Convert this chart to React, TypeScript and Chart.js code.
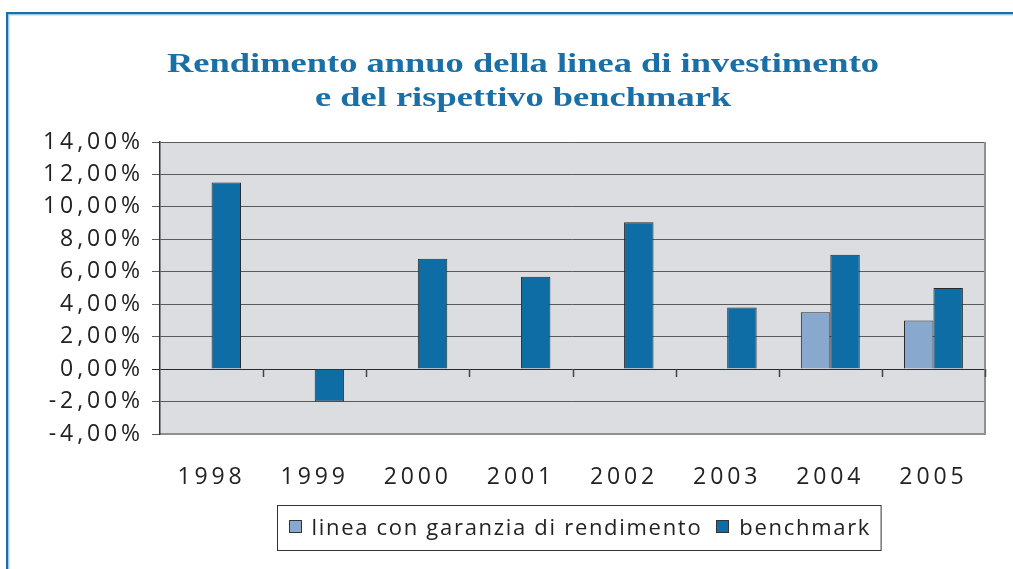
import React, { useEffect, useRef } from "react";
import { Chart, registerables } from "chart.js";

Chart.register(...registerables);

const TITLE_LINES = ["Rendimento annuo della linea di investimento", "e del rispettivo benchmark"];
const YEARS = ["1998", "1999", "2000", "2001", "2002", "2003", "2004", "2005"];
const SERIES_LABELS = ["linea con garanzia di rendimento", "benchmark"];
const GUARANTEED: (number | null)[] = [null, null, null, null, null, null, 3.5, 3.0];
const BENCHMARK: number[] = [11.5, -2.0, 6.8, 5.7, 9.05, 3.8, 7.05, 5.0];
const Y_MIN = -4;
const Y_MAX = 14;
const Y_STEP = 2;

const LIGHT = "#89a8cd";
const DARK = "#0e6da5";
const FRAME = "#1b6fa6";
const TITLE_COLOR = "#1a70a6";
const AXIS_FONT = "Open Sans";
const AXIS_SPACING = "3.9px";

const fmt = (v: number) => v.toFixed(2).replace(".", ",") + "%";

const decorPlugin = {
  id: "decor",
  beforeLayout(chart: any) {
    chart.ctx.letterSpacing = AXIS_SPACING;
  },
  beforeDraw(chart: any) {
    const ctx = chart.ctx;
    const { width, height } = chart;
    const a = chart.chartArea;
    ctx.save();
    // outer frame
    ctx.fillStyle = FRAME;
    ctx.fillRect(6, 12, width - 6, 2.4);
    ctx.fillRect(6, 12, 2.4, height - 12);
    ctx.fillStyle = "#9cc8e6";
    ctx.fillRect(8.4, 14.4, width - 8.4, 1);
    ctx.fillRect(8.4, 14.4, 1, height - 14.4);
    // plot background
    ctx.fillStyle = "#dcdde0";
    ctx.fillRect(a.left, a.top, a.right - a.left, a.bottom - a.top);
    ctx.restore();
    ctx.letterSpacing = AXIS_SPACING;
  },
  afterDraw(chart: any) {
    const ctx = chart.ctx;
    const a = chart.chartArea;
    const xs = chart.scales.x;
    const ys = chart.scales.y;
    ctx.save();
    ctx.letterSpacing = "0px";
    // right border of plot
    ctx.strokeStyle = "#8e9194";
    ctx.lineWidth = 2;
    ctx.beginPath();
    ctx.moveTo(a.right, a.top);
    ctx.lineTo(a.right, a.bottom);
    ctx.stroke();
    // category tick marks on the zero line
    const y0 = ys.getPixelForValue(0);
    const half = (xs.getPixelForValue(1) - xs.getPixelForValue(0)) / 2;
    ctx.strokeStyle = "#444";
    ctx.lineWidth = 1.5;
    ctx.beginPath();
    for (let i = 0; i < YEARS.length; i++) {
      const bx = Math.round(xs.getPixelForValue(i) + half) + 0.5;
      ctx.moveTo(bx, y0);
      ctx.lineTo(bx, y0 + 8);
    }
    ctx.stroke();

    // title
    ctx.font = 'bold 27px "Liberation Serif"';
    ctx.fillStyle = TITLE_COLOR;
    ctx.textAlign = "center";
    ctx.textBaseline = "alphabetic";
    const w1 = ctx.measureText(TITLE_LINES[0]).width;
    const sx = 712 / w1;
    ctx.save();
    ctx.translate(523, 0);
    ctx.scale(sx, 1);
    ctx.fillText(TITLE_LINES[0], 0, 72);
    ctx.fillText(TITLE_LINES[1], 0, 106);
    ctx.restore();

    // legend
    ctx.font = `22px "${AXIS_FONT}"`;
    ctx.letterSpacing = "1.7px";
    ctx.textAlign = "left";
    const colors = [LIGHT, DARK];
    const marker = 13;
    const gapM = 10;
    const gapItem = 14;
    const padL = 11;
    const padR = 10;
    const widths = SERIES_LABELS.map((l) => ctx.measureText(l).width);
    let total = padL + padR;
    widths.forEach((w, i) => {
      total += marker + gapM + w + (i < widths.length - 1 ? gapItem : 0);
    });
    const cx = (a.left + a.right) / 2 + 6;
    const bx0 = Math.round(cx - total / 2) + 0.5;
    const top = 505.5;
    const bh = 45;
    ctx.fillStyle = "#ffffff";
    ctx.fillRect(bx0, top, total, bh);
    ctx.strokeStyle = "#333";
    ctx.lineWidth = 1;
    ctx.strokeRect(bx0, top, total, bh);
    let x = bx0 + padL;
    SERIES_LABELS.forEach((l, i) => {
      ctx.fillStyle = colors[i];
      ctx.fillRect(Math.round(x), 520, marker, marker);
      ctx.strokeStyle = "#333";
      ctx.strokeRect(Math.round(x) + 0.5, 520.5, marker - 1, marker - 1);
      x += marker + gapM;
      ctx.fillStyle = "#222";
      ctx.fillText(l, x, 535);
      x += widths[i] + gapItem;
    });
    ctx.restore();
  },
};

export default function App() {
  const ref = useRef<HTMLCanvasElement | null>(null);
  useEffect(() => {
    if (!ref.current) return;
    const chart = new Chart(ref.current, {
      type: "bar",
      data: {
        labels: YEARS,
        datasets: [
          {
            label: SERIES_LABELS[0],
            data: GUARANTEED,
            backgroundColor: LIGHT,
            borderColor: "#2a2a2a",
            borderWidth: 1,
            categoryPercentage: 2 / 3.5,
            barPercentage: 1,
          },
          {
            label: SERIES_LABELS[1],
            data: BENCHMARK,
            backgroundColor: DARK,
            borderColor: "#2a2a2a",
            borderWidth: 1,
            categoryPercentage: 2 / 3.5,
            barPercentage: 1,
          },
        ],
      },
      options: {
        responsive: false,
        animation: false,
        devicePixelRatio: 1,
        layout: { padding: { top: 142, right: 28, left: 0, bottom: 0 } },
        plugins: {
          legend: { display: false },
          title: { display: false },
          tooltip: { enabled: false },
        },
        scales: {
          x: {
            grid: { display: false, drawTicks: false },
            border: { display: true, color: "#8e9194", width: 2 },
            ticks: {
              color: "#222",
              font: { family: AXIS_FONT, size: 23 },
              padding: 30,
              maxRotation: 0,
            },
            afterFit: (s: any) => {
              s.height = 135;
            },
          },
          y: {
            min: Y_MIN,
            max: Y_MAX,
            grid: {
              color: (c: any) => (c.tick && c.tick.value === 0 ? "#2a2a2a" : "#5a5a5a"),
              lineWidth: 1,
              tickLength: 8,
              drawTicks: true,
            },
            border: { display: true, color: "#333", width: 1.5 },
            ticks: {
              stepSize: Y_STEP,
              color: "#222",
              font: { family: AXIS_FONT, size: 23 },
              padding: 8,
              callback: (v: any) => fmt(Number(v)),
            },
            afterFit: (s: any) => {
              s.width = 160;
            },
          },
        },
      },
      plugins: [decorPlugin],
    });
    return () => chart.destroy();
  }, []);
  return (
    <div style={{ position: "fixed", left: 0, top: 0, width: 1013, height: 569, background: "#fff" }}>
      <canvas ref={ref} width={1013} height={569} style={{ display: "block", width: 1013, height: 569 }} />
    </div>
  );
}
